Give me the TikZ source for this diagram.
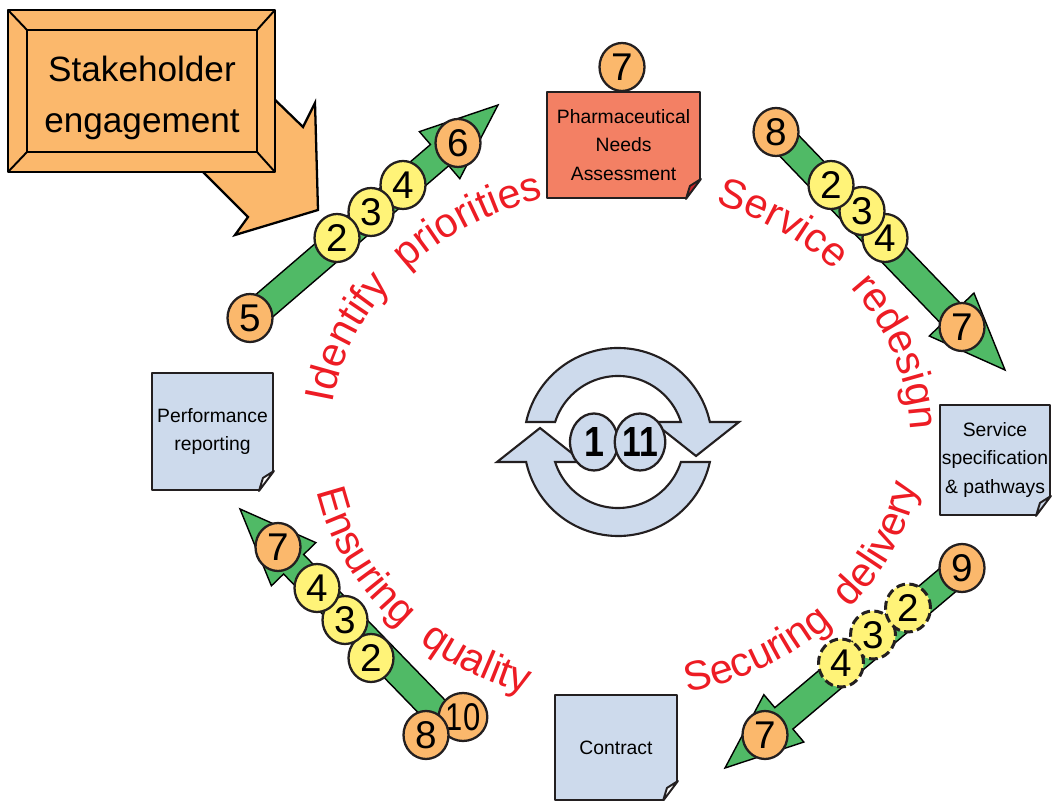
\documentclass[tikz,border=0pt]{standalone}
\usepackage{fontspec}
\setmainfont{Liberation Sans}
\usetikzlibrary{calc,shapes.geometric,decorations.text}
\definecolor{orng}{RGB}{251,184,108}
\definecolor{yllw}{RGB}{255,243,120}
\definecolor{grn}{RGB}{80,186,102}
\definecolor{salmon}{RGB}{243,128,100}
\definecolor{foldred}{RGB}{205,35,40}
\definecolor{lblue}{RGB}{205,218,236}
\definecolor{redtxt}{RGB}{237,28,36}
\definecolor{ink}{RGB}{35,31,32}
\begin{document}
\begin{tikzpicture}[x=0.02cm, y=0.02cm, line join=round,
    num/.style={ellipse, draw=ink, line width=1.3pt, minimum width=0.9cm, minimum height=0.96cm, inner sep=0pt, font=\fontsize{22}{22}\selectfont},
    onum/.style={num, fill=orng},
    ynum/.style={num, fill=yllw},
    dnum/.style={ynum, dash pattern=on 5pt off 2.5pt, line width=1.7pt},
    cnum/.style={ellipse, draw=ink, line width=1.3pt, fill=lblue, minimum width=0.96cm, minimum height=1.14cm, inner sep=0pt, font=\fontsize{24}{24}\selectfont\bfseries},
    note/.style={draw=ink, line width=1.1pt, align=center, inner sep=0pt, font=\fontsize{11}{16}\selectfont},
    bigarr/.style={fill=grn, draw=black, line width=0.8pt, line join=miter},
    cyclearr/.style={fill=lblue, draw=ink, line width=1.2pt, line join=miter},
    arctxt/.style={decorate, decoration={text along path, text align=center, text color=redtxt, text={|\fontsize{23.5}{23.5}\selectfont|#1}}}]
    \def\greenarrow#1#2{%
        \coordinate (hb) at ($(#2)!1.54cm!(#1)$);
        \draw[bigarr] ($(#1)!0.28cm!90:(#2)$) -- ($(hb)!0.28cm!-90:(#1)$) -- ($(hb)!0.62cm!-90:(#1)$) -- (#2)
            -- ($(hb)!0.62cm!90:(#1)$) -- ($(hb)!0.28cm!90:(#1)$) -- ($(#1)!0.28cm!-90:(#2)$) -- cycle;
    }
    \def\pagefold#1#2{%
        \fill[white] ([shift={(1.5,22)}]#1.south east) -- ([shift={(1.5,-1.5)}]#1.south east) -- ([shift={(-17,-1.5)}]#1.south east) -- cycle;
        \draw[draw=ink, line width=1.1pt, fill=#2] ([shift={(0,20)}]#1.south east) -- ([shift={(-11,13)}]#1.south east) -- ([shift={(-15,0)}]#1.south east) -- cycle;
    }
    \useasboundingbox (0,0) rectangle (1053,800);
    \clip (0,0) rectangle (1053,800);
    % stakeholder box with its pointer
    \draw[fill=orng, line width=1.3pt, line join=miter] (200,773) -- (303,673) -- (315,697) -- (318,590) -- (235,565) -- (248,583) -- (150,681) -- cycle;
    \draw[fill=orng, line width=1.3pt] (8,628) rectangle (275,790);
    \draw[line width=1.1pt] (8,790)--(27,770) (275,790)--(257,770) (8,628)--(27,648) (275,628)--(257,648);
    \draw[line width=1.3pt] (27,648) rectangle (257,770);
    \node[align=center, font=\fontsize{20}{29.5}\selectfont] (stake) at (142,702) {Stakeholder\\engagement};
    % documents
    \node[note, fill=salmon, minimum width=3.06cm, minimum height=2.12cm] (pna) at (623.5,655) {Pharmaceutical\\Needs\\Assessment};
    \pagefold{pna}{foldred}
    \node[note, fill=lblue, minimum width=2.42cm, minimum height=2.34cm] (perf) at (212.5,368.5) {Performance\\reporting};
    \pagefold{perf}{white}
    \node[note, fill=lblue, minimum width=2.2cm, minimum height=2.2cm] (spec) at (995,340) {Service\\specification\\\& pathways};
    \pagefold{spec}{lblue}
    \node[note, fill=lblue, minimum width=2.44cm, minimum height=2.1cm] (contract) at (616,52.5) {Contract};
    \pagefold{contract}{white}
    \node[onum] (pna7) at (622,733) {7};
    % cycle in the middle
    \begin{scope}[shift={(618,358)}]
        \foreach \r in {0,180}
            \draw[cyclearr, rotate=\r] (-62.9,20) -- (-91.85,20) arc[start angle=167.72, end angle=12.28, radius=94]
                -- (121,20) -- (78,-14) -- (35,20) -- (62.9,20) arc[start angle=17.64, end angle=162.36, radius=66] -- cycle;
    \end{scope}
    \node[cnum] (c1) at (594,358) {\scalebox{0.85}[1]{1}};
    \node[cnum] (c11) at (640,358) {\scalebox{0.8}[1]{11}};
    % stage names
    \path[arctxt=Identify{\ \ }priorities] (620,360) ++(195:291 and 250) arc[start angle=195, end angle=85, x radius=291, y radius=250];
    \path[arctxt=Service{\ \ }redesign] (620,360) ++(90:291 and 250) arc[start angle=90, end angle=-20, x radius=291, y radius=250];
    \path[arctxt=Securing{\ \ }delivery] (620,360) ++(-97:302 and 259) arc[start angle=-97, end angle=13, x radius=302, y radius=259];
    \path[arctxt=Ensuring{\ \ }quality] (620,360) ++(165:309 and 266) arc[start angle=165, end angle=275, x radius=309, y radius=266];
    % green arrows
    \coordinate (ipT) at (250,482); \coordinate (ipH) at (498,695);
    \coordinate (srT) at (776,668); \coordinate (srH) at (1005,430);
    \coordinate (sdT) at (962,232); \coordinate (sdH) at (725,32);
    \coordinate (eqT) at (440,85);  \coordinate (eqH) at (240,291);
    \foreach \t/\h in {ipT/ipH, srT/srH, sdT/sdH, eqT/eqH}
        \greenarrow{\t}{\h};
    \foreach \s/\n/\x/\y in {onum/5/250/482, onum/6/458/657, ynum/4/403/615, ynum/3/371/588, ynum/2/337/562}
        \node[\s] (ip\n) at (\x,\y) {\n};
    \foreach \s/\n/\x/\y in {onum/8/776/668, onum/7/962/473, ynum/4/885/562, ynum/3/862/589, ynum/2/831/615}
        \node[\s] (sr\n) at (\x,\y) {\n};
    \foreach \s/\n/\x/\y in {onum/9/962/232, onum/7/765/65, dnum/3/873/165, dnum/2/908/192, dnum/4/841/137}
        \node[\s] (sd\n) at (\x,\y) {\n};
    \foreach \s/\n/\x/\y in {ynum/2/371/142, ynum/3/345/180, ynum/4/317/212, onum/7/278/253}
        \node[\s] (eq\n) at (\x,\y) {\n};
    \node[onum] (eq10) at (463,83) {\scalebox{0.8}[1]{10}};
    \node[onum] (eq8) at (426,65) {8};
\end{tikzpicture}
\end{document}
